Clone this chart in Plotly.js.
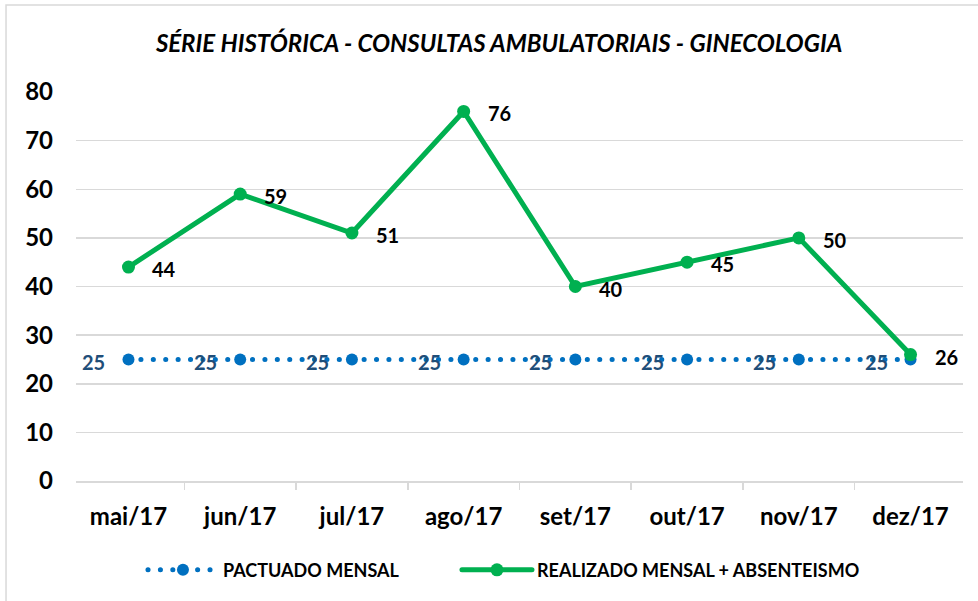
<!DOCTYPE html>
<html>
<head>
<meta charset="utf-8">
<script src="https://cdn.plot.ly/plotly-3.0.1.min.js"></script>
<style>
html,body{margin:0;padding:0;background:#fff;}
#chart{width:978px;height:601px;}
#chart path.js-line{stroke-linecap:round;}
</style>
</head>
<body>
<div id="chart"></div>
<script>
const categories = ["mai/17","jun/17","jul/17","ago/17","set/17","out/17","nov/17","dez/17"];
const pactuado = [25,25,25,25,25,25,25,25];
const realizado = [44,59,51,76,40,45,50,26];
const yTicks = [0,10,20,30,40,50,60,70,80];
const chartTitle = "SÉRIE HISTÓRICA - CONSULTAS AMBULATORIAIS - GINECOLOGIA";
const seriesNames = ["PACTUADO MENSAL","REALIZADO MENSAL + ABSENTEISMO"];

const FONT = "Lato, 'Open Sans', sans-serif";

const traces = [
  {
    x: categories, y: pactuado, name: seriesNames[0], type: "scatter",
    mode: "lines+markers", legend: "legend",
    line: {color: "#0070C0", width: 5, dash: "0.1px,12.3px"},
    marker: {color: "#0070C0", size: 12, symbol: "circle"}
  },
  {
    x: categories, y: realizado, name: seriesNames[1], type: "scatter",
    mode: "lines+markers", legend: "legend2",
    line: {color: "#00B050", width: 5},
    marker: {color: "#00B050", size: 13}
  }
];

const annotations = [];
categories.forEach((c, i) => {
  annotations.push({
    x: c, y: pactuado[i], xref: "x", yref: "y", text: "<b>" + pactuado[i] + "</b>",
    showarrow: false, xanchor: "right", yanchor: "middle", xshift: -21, yshift: -3,
    font: {family: FONT, size: 20, color: "#1F4E79"}
  });
  annotations.push({
    x: c, y: realizado[i], xref: "x", yref: "y", text: "<b>" + realizado[i] + "</b>",
    showarrow: false, xanchor: "left", yanchor: "middle", xshift: 22, yshift: -2,
    font: {family: FONT, size: 20, color: "#000"}
  });
});

const legendBase = {
  orientation: "h", xanchor: "left", y: -0.229, yanchor: "middle",
  font: {family: FONT, size: 18, color: "#000", weight: "bold"},
  itemwidth: 70, bgcolor: "rgba(0,0,0,0)"
};

const layout = {
  width: 978, height: 601,
  margin: {l: 76, r: 15, t: 92, b: 120},
  paper_bgcolor: "#ffffff", plot_bgcolor: "#ffffff",
  font: {family: FONT, color: "#000"},
  title: {text: "<b><i>" + chartTitle + "</i></b>", x: 0.477, xref: "paper", xanchor: "center",
          y: 0.927, yanchor: "middle",
          font: {family: FONT, size: 24, color: "#000"}},
  xaxis: {
    type: "category", showgrid: false, showline: true, linecolor: "#d9d9d9", linewidth: 1.5,
    ticks: "outside", tickson: "boundaries", ticklen: 7, tickcolor: "#d9d9d9", tickwidth: 1.5,
    ticklabelstandoff: 14,
    tickfont: {family: FONT, size: 24, color: "#000", weight: "bold"}, fixedrange: true
  },
  yaxis: {
    range: [0, 80], tickvals: yTicks, showgrid: true, gridcolor: "#d9d9d9", gridwidth: 1.5,
    zeroline: false, showline: false, ticks: "", ticklabelstandoff: 22,
    tickfont: {family: FONT, size: 24, color: "#000", weight: "bold"}, fixedrange: true
  },
  showlegend: true,
  legend: Object.assign({}, legendBase, {x: 0.0755}),
  legend2: Object.assign({}, legendBase, {x: 0.4295}),
  annotations: annotations,
  shapes: [
    {type: "rect", xref: "paper", yref: "paper", x0: -0.0789, x1: 1.2, y0: -0.5, y1: 1.2237,
     line: {color: "#d9d9d9", width: 1.5}, fillcolor: "rgba(0,0,0,0)", layer: "below"}
  ]
};

Plotly.newPlot("chart", traces, layout, {displayModeBar: false, staticPlot: true});
</script>
</body>
</html>
